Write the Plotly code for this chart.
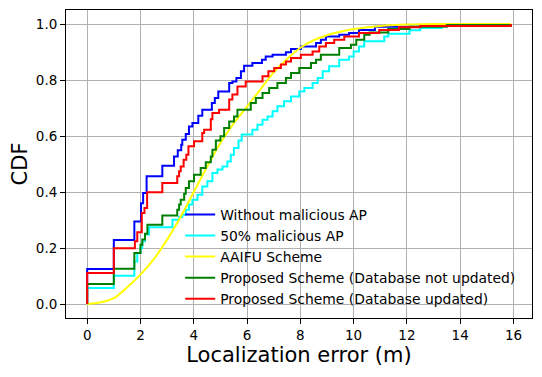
import plotly.graph_objects as go

# Step breakpoints (x where the CDF jumps, CDF value after the jump)
blue_x = [0, 0, 1.0, 1.77, 2.02, 2.1, 2.23, 2.82, 3.26, 3.4, 3.53, 3.57, 3.7, 3.82, 3.95, 4.17, 4.32,
          4.68, 4.79, 4.92, 5.33, 5.45, 5.6, 5.77, 5.89, 6.2, 6.56, 6.7, 6.96, 7.46, 7.65, 8.02, 8.59,
          8.77, 8.96, 9.46, 9.83, 10.2, 10.8, 12.5, 15.9]
blue_y = [0, 0.125, 0.229, 0.295, 0.36, 0.396, 0.456, 0.494, 0.527, 0.549, 0.569, 0.587, 0.607, 0.634,
          0.646, 0.672, 0.694, 0.718, 0.736, 0.759, 0.789, 0.795, 0.807, 0.831, 0.851, 0.861, 0.872,
          0.884, 0.89, 0.899, 0.911, 0.92, 0.932, 0.944, 0.955, 0.962, 0.968, 0.979, 0.99, 0.996, 1.0]

cyan_x = [0, 0, 1.0, 1.77, 1.88, 2.0, 2.07, 2.17, 2.32, 3.2, 3.45, 3.57, 3.7, 3.82, 3.95, 4.14, 4.32,
          4.51, 4.7, 4.89, 5.08, 5.26, 5.39, 5.51, 5.68, 5.8, 6.2, 6.39, 6.58, 6.77, 6.96, 7.14, 7.39,
          7.65, 7.96, 8.15, 8.46, 8.65, 8.84, 9.08, 9.46, 9.83, 10.0, 10.2, 10.4, 11.15, 11.3, 12.1,
          12.5, 13.3, 15.9]
cyan_y = [0, 0.057, 0.101, 0.152, 0.182, 0.2, 0.224, 0.248, 0.274, 0.301, 0.311, 0.319, 0.337, 0.355,
          0.372, 0.39, 0.42, 0.438, 0.468, 0.48, 0.491, 0.509, 0.533, 0.557, 0.584, 0.605, 0.622,
          0.64, 0.658, 0.67, 0.688, 0.706, 0.724, 0.741, 0.759, 0.771, 0.789, 0.807, 0.831, 0.849,
          0.872, 0.884, 0.902, 0.92, 0.938, 0.955, 0.965, 0.978, 0.986, 0.993, 1.0]

aaifu_x = [0, 0.5, 1.0, 1.5, 2.0, 2.5, 3.0, 3.5, 4.0, 4.5, 5.0, 5.5, 6.0, 6.5, 7.0, 7.5, 8.0, 8.5,
           9.0, 9.5, 10.0, 10.5, 11.0, 12.0, 13.0, 15.9]
aaifu_y = [0, 0.006, 0.021, 0.06, 0.105, 0.16, 0.23, 0.31, 0.4, 0.49, 0.575, 0.645, 0.705, 0.766,
           0.827, 0.875, 0.915, 0.942, 0.96, 0.972, 0.982, 0.988, 0.993, 0.998, 1.0, 1.0]

green_x = [0, 0, 1.0, 1.77, 2.0, 2.07, 2.17, 2.26, 2.82, 3.38, 3.45, 3.51, 3.64, 3.7, 3.82, 4.01, 4.26,
           4.45, 4.64, 4.7, 4.83, 5.0, 5.14, 5.33, 5.51, 5.64, 6.14, 6.33, 6.58, 6.83, 7.14, 7.46,
           7.65, 7.96, 8.4, 8.59, 8.77, 9.46, 9.9, 10.1, 10.4, 10.6, 11.3, 12.1, 13.5, 15.9]
green_y = [0, 0.071, 0.126, 0.182, 0.212, 0.23, 0.251, 0.283, 0.316, 0.337, 0.355, 0.372, 0.394,
           0.414, 0.438, 0.462, 0.486, 0.506, 0.527, 0.551, 0.584, 0.599, 0.629, 0.652, 0.67, 0.694,
           0.718, 0.736, 0.754, 0.771, 0.789, 0.807, 0.825, 0.843, 0.861, 0.872, 0.89, 0.914, 0.926,
           0.944, 0.962, 0.97, 0.982, 0.99, 0.996, 1.0]

red_x = [0, 0, 1.0, 1.79, 1.88, 2.05, 2.15, 2.25, 2.82, 3.38, 3.45, 3.51, 3.62, 3.72, 3.8, 4.01, 4.32,
         4.39, 4.64, 4.7, 4.95, 5.33, 5.45, 5.64, 5.95, 6.58, 6.8, 7.02, 7.27, 7.46, 7.65, 8.02, 8.46,
         8.71, 8.96, 9.27, 9.65, 10.2, 10.96, 11.7, 12.5, 15.9]
red_y = [0, 0.111, 0.199, 0.224, 0.256, 0.325, 0.343, 0.399, 0.432, 0.456, 0.474, 0.491, 0.515, 0.533,
         0.563, 0.581, 0.611, 0.622, 0.66, 0.682, 0.694, 0.73, 0.748, 0.777, 0.795, 0.813, 0.831,
         0.843, 0.855, 0.866, 0.879, 0.89, 0.902, 0.92, 0.932, 0.944, 0.955, 0.968, 0.979, 0.988,
         0.993, 1.0]

series_names = ["Without malicious AP", "50% malicious AP", "AAIFU Scheme",
                "Proposed Scheme (Database not updated)", "Proposed Scheme (Database updated)"]
x_ticks = [0, 2, 4, 6, 8, 10, 12, 14, 16]
y_ticks = [0.0, 0.2, 0.4, 0.6, 0.8, 1.0]

FONT = "DejaVu Sans"
fig = go.Figure()
data = [
    (blue_x, blue_y, "blue", "hv"),
    (cyan_x, cyan_y, "cyan", "hv"),
    (aaifu_x, aaifu_y, "yellow", "spline"),
    (green_x, green_y, "green", "hv"),
    (red_x, red_y, "red", "hv"),
]
for (xs, ys, col, shape), name in zip(data, series_names):
    fig.add_trace(go.Scatter(x=xs, y=ys, mode="lines", name=name,
                             line=dict(color=col, width=2, shape=shape)))

axis_common = dict(showline=True, linecolor="black", linewidth=1, mirror=True,
                   ticks="outside", ticklen=5, tickcolor="black", tickwidth=1,
                   showgrid=True, gridcolor="#b0b0b0", gridwidth=1, zeroline=False,
                   automargin=False,
                   tickfont=dict(family=FONT, size=13.5, color="black"))
fig.update_xaxes(range=[-0.795, 16.695], tickvals=x_ticks,
                 ticktext=[str(t) for t in x_ticks],
                 title=dict(text="Localization error (m)", font=dict(family=FONT, size=21, color="black"), standoff=4),
                 **axis_common)
fig.update_yaxes(range=[-0.05, 1.05], tickvals=y_ticks,
                 ticktext=[f"{t:.1f}" for t in y_ticks],
                 title=dict(text="CDF", font=dict(family=FONT, size=21, color="black"), standoff=8),
                 **axis_common)
# The page body adds an 8px offset, so the figure is sized to fit the window.
fig.update_layout(
    width=534, height=369,
    margin=dict(l=58, r=10, t=2, b=59),
    paper_bgcolor="white", plot_bgcolor="white",
    font=dict(family=FONT, color="black"),
    legend=dict(x=0.245, y=0.01, xanchor="left", yanchor="bottom",
                bgcolor="rgba(0,0,0,0)", font=dict(family=FONT, size=13.9, color="black"),
                tracegroupgap=0),
)
fig.write_html("out.html")
